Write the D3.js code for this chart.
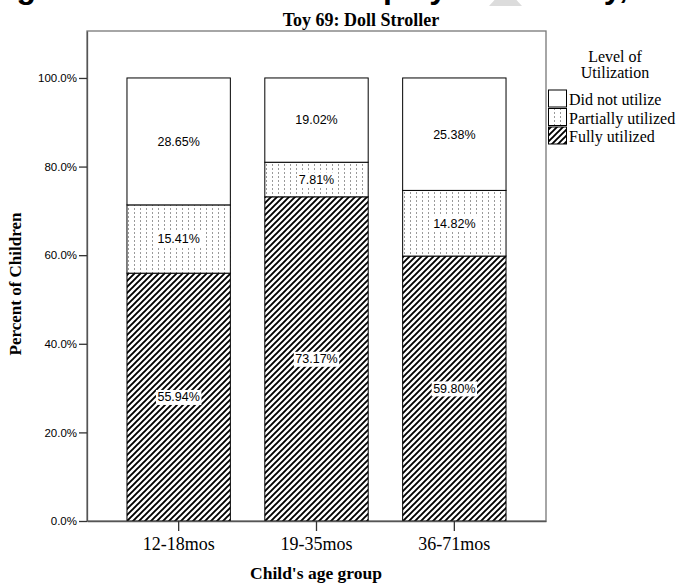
<!DOCTYPE html>
<html><head><meta charset="utf-8">
<script src="https://cdn.jsdelivr.net/npm/d3@7"></script>
<style>body{margin:0;background:#fff}svg{display:block}</style>
</head><body>
<script>
const categories = ["12-18mos", "19-35mos", "36-71mos"];
const seriesKeys = ["Fully utilized", "Partially utilized", "Did not utilize"];
const fullyUtilized = [55.94, 73.17, 59.80];
const partiallyUtilized = [15.41, 7.81, 14.82];
const didNotUtilize = [28.65, 19.02, 25.38];
const yTickValues = [0, 20, 40, 60, 80, 100];
const legendOrder = ["Did not utilize", "Partially utilized", "Fully utilized"];

(function () {
const W = 684, H = 584;
const svg = d3.select("body").append("svg").attr("width", W).attr("height", H);
const defs = svg.append("defs");

const hatch = defs.append("pattern").attr("id", "hatch").attr("patternUnits", "userSpaceOnUse")
  .attr("width", 6).attr("height", 6);
hatch.append("rect").attr("width", 6).attr("height", 6).attr("fill", "#fff");
hatch.append("path").attr("d", "M0,6 L6,0 M-1,1 L1,-1 M5,7 L7,5")
  .attr("stroke", "#000").attr("stroke-width", 1.9);
const dots = defs.append("pattern").attr("id", "dots").attr("patternUnits", "userSpaceOnUse")
  .attr("width", 6).attr("height", 4);
dots.append("rect").attr("width", 6).attr("height", 4).attr("fill", "#fff");
dots.append("rect").attr("x", 2).attr("y", 0).attr("width", 1).attr("height", 2).attr("fill", "#9a9a9a");

const fills = {"Fully utilized": "url(#hatch)", "Partially utilized": "url(#dots)", "Did not utilize": "#fff"};

const head = svg.append("g").attr("font-family", "Liberation Sans, Arial, sans-serif")
  .attr("font-weight", "bold").attr("font-size", 32).attr("fill", "#000");
head.append("text").attr("x", 36).attr("y", -2).attr("text-anchor", "end").text("Utilizing");
head.append("text").attr("x", 383).attr("y", -2).text("play");
head.append("text").attr("x", 628).attr("y", -2).attr("text-anchor", "end").text("Study,");
svg.append("polygon").attr("points", "489,6 522,6 505.5,-12").attr("fill", "#dcdcdc");

const pL = 87, pR = 546, pT = 31, pB = 521;
const y = d3.scaleLinear().domain([0, 110.6]).range([pB, pT]);
const x = d3.scaleBand().domain(categories).range([pL, pR]).paddingInner(0.25).paddingOuter(0.29);

svg.append("rect").attr("x", pL).attr("y", pT).attr("width", pR - pL).attr("height", pB - pT)
  .attr("fill", "none").attr("stroke", "#777").attr("stroke-width", 1.3);

const rows = categories.map((c, i) => ({
  cat: c,
  "Fully utilized": fullyUtilized[i],
  "Partially utilized": partiallyUtilized[i],
  "Did not utilize": didNotUtilize[i]
}));
const stacked = d3.stack().keys(seriesKeys)(rows);

const bars = svg.append("g");
stacked.forEach(s => {
  bars.selectAll(null).data(s).enter().append("rect")
    .attr("x", d => x(d.data.cat))
    .attr("y", d => y(d[1]))
    .attr("width", x.bandwidth())
    .attr("height", d => y(d[0]) - y(d[1]))
    .attr("fill", fills[s.key])
    .attr("stroke", "#000").attr("stroke-width", 1);
});

const lab = svg.append("g");
stacked.forEach(s => {
  s.forEach(d => {
    const cx = x(d.data.cat) + x.bandwidth() / 2;
    const cy = (y(d[0]) + y(d[1])) / 2;
    const g = lab.append("g");
    const t = g.append("text").attr("x", cx).attr("y", cy).attr("dy", "0.35em")
      .attr("text-anchor", "middle").attr("font-family", "Liberation Sans, Arial, sans-serif")
      .attr("font-size", 12.5).attr("fill", "#000")
      .text((d[1] - d[0]).toFixed(2) + "%");
    const bb = t.node().getBBox();
    g.insert("rect", "text").attr("x", bb.x - 1.5).attr("y", bb.y - 0.5)
      .attr("width", bb.width + 3).attr("height", bb.height + 1).attr("fill", "#fff");
  });
});

const yAxis = svg.append("g").attr("transform", `translate(${pL},0)`)
  .call(d3.axisLeft(y).tickValues(yTickValues).tickSize(8).tickSizeOuter(0).tickPadding(2)
    .tickFormat(d => d.toFixed(1) + "%"));
yAxis.select(".domain").attr("stroke", "#555").attr("stroke-width", 1.3);
yAxis.selectAll(".tick line").attr("stroke", "#333").attr("stroke-width", 1.3);
yAxis.selectAll(".tick text").attr("font-family", "Liberation Sans, Arial, sans-serif")
  .attr("font-size", 11.5).attr("fill", "#000");

const xAxis = svg.append("g").attr("transform", `translate(0,${pB})`)
  .call(d3.axisBottom(x).tickSize(10).tickSizeOuter(0).tickPadding(6));
xAxis.select(".domain").attr("stroke", "#555").attr("stroke-width", 1.3);
xAxis.selectAll(".tick line").attr("stroke", "#333").attr("stroke-width", 1.3);
xAxis.selectAll(".tick text").attr("font-family", "Liberation Serif, Times New Roman, serif")
  .attr("font-size", 18).attr("fill", "#000");

svg.append("text").attr("x", 361).attr("y", 26).attr("text-anchor", "middle")
  .attr("font-family", "Liberation Serif, Times New Roman, serif").attr("font-weight", "bold")
  .attr("font-size", 18).text("Toy 69: Doll Stroller");
svg.append("text").attr("x", 316).attr("y", 579).attr("text-anchor", "middle")
  .attr("font-family", "Liberation Serif, Times New Roman, serif").attr("font-weight", "bold")
  .attr("font-size", 17.5).text("Child's age group");
svg.append("text").attr("transform", "translate(21,284) rotate(-90)").attr("text-anchor", "middle")
  .attr("font-family", "Liberation Serif, Times New Roman, serif").attr("font-weight", "bold")
  .attr("font-size", 17).text("Percent of Children");

const lg = svg.append("g").attr("font-family", "Liberation Serif, Times New Roman, serif").attr("fill", "#000");
lg.append("text").attr("x", 615).attr("y", 62).attr("text-anchor", "middle").attr("font-size", 16).text("Level of");
lg.append("text").attr("x", 615).attr("y", 78).attr("text-anchor", "middle").attr("font-size", 16).text("Utilization");
legendOrder.forEach((k, i) => {
  const yy = 90 + i * 18.5;
  lg.append("rect").attr("x", 548.5).attr("y", yy).attr("width", 18).attr("height", 17)
    .attr("fill", fills[k]).attr("stroke", "#000").attr("stroke-width", 1);
  lg.append("text").attr("x", 569).attr("y", yy + 15).attr("font-size", 16).text(k);
});
})();
</script>
</body></html>
